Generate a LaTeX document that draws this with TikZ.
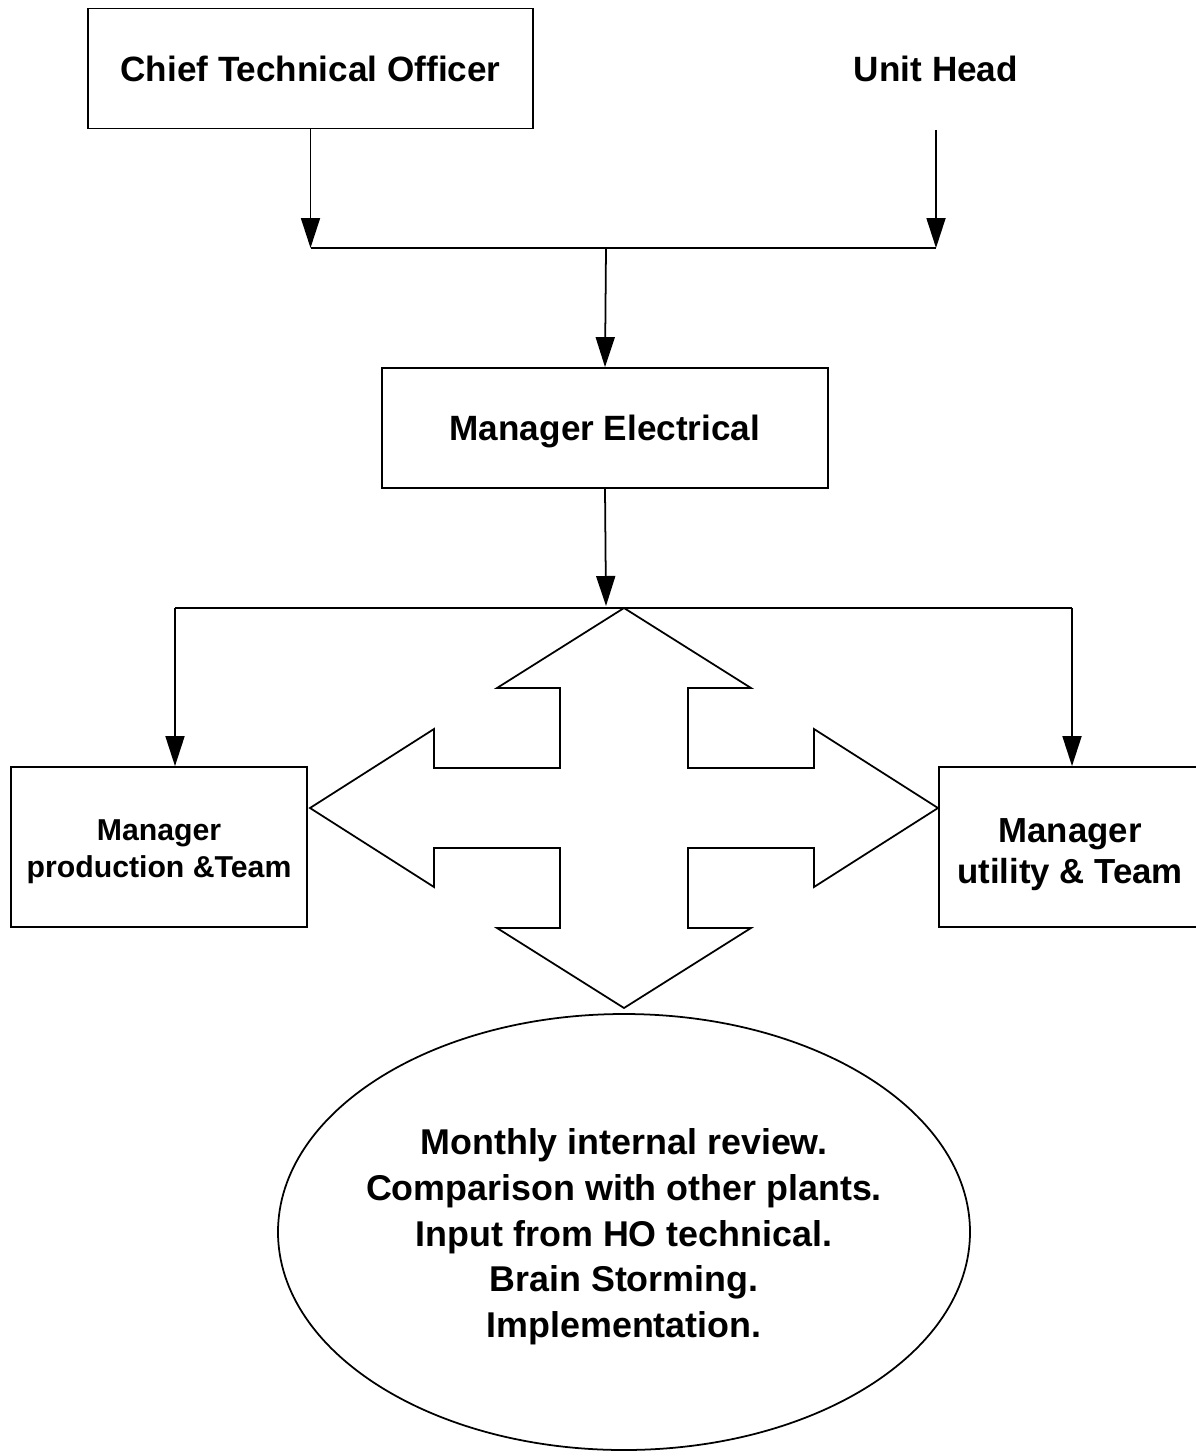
\documentclass[tikz,border=0pt]{standalone}
\usepackage{fontspec}
\setmainfont{Liberation Sans}
\usetikzlibrary{arrows.meta,shapes.geometric}
\tikzset{
  box/.style={draw,line width=0.5pt,minimum width=#1,minimum height=1.2cm,inner sep=0pt,text depth=0pt,font=\bfseries\fontsize{10}{12}\selectfont},
  txt/.style={align=center,inner sep=0pt},
  arr/.style={line width=0.5pt,-{Triangle[length=3mm,width=1.9mm]}},
  link/.style={line width=0.5pt}
}
\begin{document}
\begin{tikzpicture}
  \useasboundingbox (0,0) rectangle (11.95,-14.52);
  \node[box=4.45cm] (cto) at (3.105,-0.685) {Chief Technical Officer};
  \node[box=2cm,draw=none] (uh) at (9.36,-0.69) {Unit Head};
  \coordinate (j1) at (6.06,-2.48);
  \draw[arr] (cto.south) -- (cto.south |- j1);
  \draw[arr] (uh.south) -- (uh.south |- j1);
  \draw[link] (cto.south |- j1) -- (uh.south |- j1);
  \node[box=4.46cm] (me) at (6.05,-4.28) {Manager Electrical};
  \draw[arr] (j1) -- (me.north);
  \coordinate (j2) at (6.06,-6.06);
  \draw[arr] (me.south) -- (j2);
  \node[box=2.96cm,minimum height=1.6cm] (mp) at (1.59,-8.47) {};
  \node[txt,font=\bfseries\fontsize{8.6}{10.5}\selectfont] (mptext) at ([yshift=-0.05cm]mp.center) {Manager\\production \&Team};
  \node[box=2.62cm,minimum height=1.6cm] (mu) at (10.70,-8.47) {};
  \node[txt,font=\bfseries\fontsize{9.9}{11.7}\selectfont] (mutext) at ([yshift=-0.08cm]mu.center) {Manager\\utility \& Team};
  \coordinate (jl) at (1.75,-6.08);
  \coordinate (jr) at (10.72,-6.08);
  \draw[link] (jl) -- (jr);
  \draw[arr] (jl) -- (jl |- mp.north);
  \draw[arr] (jr) -- (jr |- mu.north);
  \draw[link,shift={(6.24,-8.08)}] (0,2) -- (1.27,1.2) -- (0.64,1.2) -- (0.64,0.4) -- (1.9,0.4) -- (1.9,0.79) -- (3.14,0)
    -- (1.9,-0.79) -- (1.9,-0.4) -- (0.64,-0.4) -- (0.64,-1.2) -- (1.27,-1.2) -- (0,-2) -- (-1.27,-1.2) -- (-0.64,-1.2)
    -- (-0.64,-0.4) -- (-1.9,-0.4) -- (-1.9,-0.79) -- (-3.14,0) -- (-1.9,0.79) -- (-1.9,0.4) -- (-0.64,0.4) -- (-0.64,1.2)
    -- (-1.27,1.2) -- cycle;
  \draw[link] (6.24,-12.32) ellipse [x radius=3.46cm,y radius=2.18cm];
  \node[txt,font=\bfseries\fontsize{10.2}{13}\selectfont] (rev) at (6.24,-12.37)
    {Monthly internal review.\\Comparison with other plants.\\Input from HO technical.\\Brain Storming.\\Implementation.};
\end{tikzpicture}
\end{document}
